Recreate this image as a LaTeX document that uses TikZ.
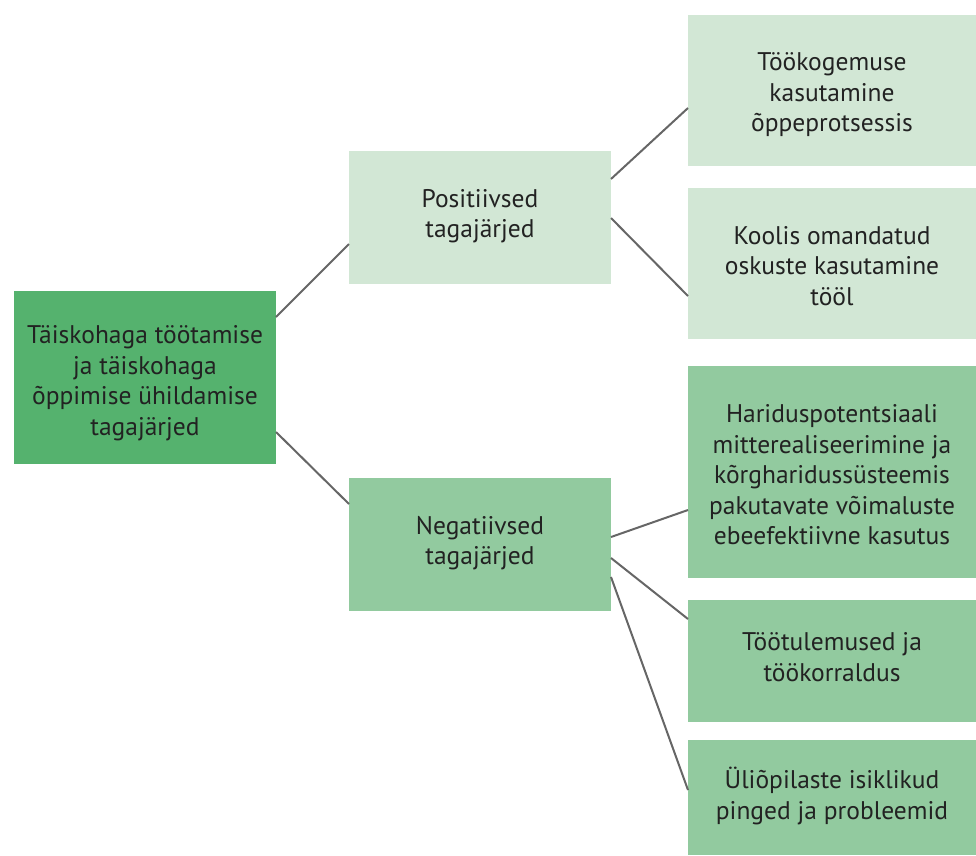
\documentclass[tikz,border=0pt]{standalone}
\usepackage{fontspec}
\setmainfont{PT Sans}
\definecolor{rootg}{HTML}{55B26E}
\definecolor{lightg}{HTML}{D2E7D5}
\definecolor{midg}{HTML}{92CA9F}
\definecolor{txt}{HTML}{222222}
\definecolor{linec}{HTML}{666666}
\tikzset{
  box/.style={rectangle, inner sep=0pt, align=center, text=txt,
    font=\fontsize{25.5}{30.5}\selectfont},
  conn/.style={draw=linec, line width=2pt}
}
\begin{document}
\begin{tikzpicture}[x=1pt,y=-1pt]
\useasboundingbox (0,0) rectangle (976,855);
% boxes
\fill[rootg] (14,291) rectangle (276,464);
\node[box] (root) at (145,383) {Täiskohaga töötamise\\ja täiskohaga\\õppimise ühildamise\\tagajärjed};
\fill[lightg] (349,151) rectangle (611,284);
\node[box] (pos) at (480,216) {Positiivsed\\tagajärjed};
\fill[midg] (349,478) rectangle (611,611);
\node[box] (neg) at (480,543) {Negatiivsed\\tagajärjed};
\fill[lightg] (688,15) rectangle (976,166);
\node[box] (b1) at (832,95) {Töökogemuse\\kasutamine\\õppeprotsessis};
\fill[lightg] (688,188) rectangle (976,339);
\node[box] (b2) at (832,266) {Koolis omandatud\\oskuste kasutamine\\tööl};
\fill[midg] (688,366) rectangle (976,578);
\node[box] (b3) at (832,475) {Hariduspotentsiaali\\mitterealiseerimine ja\\kõrgharidussüsteemis\\pakutavate võimaluste\\ebeefektiivne kasutus};
\fill[midg] (688,600) rectangle (976,722);
\node[box] (b4) at (832,657) {Töötulemused ja\\töökorraldus};
\fill[midg] (688,740) rectangle (976,855);
\node[box] (b5) at (832,796) {Üliõpilaste isiklikud\\pinged ja probleemid};
% connector anchors
\coordinate (r1) at (276,317); \coordinate (p0) at (349,244);
\coordinate (r2) at (276,432); \coordinate (n0) at (349,504);
\coordinate (p1) at (611,179); \coordinate (b1l) at (688,108);
\coordinate (p2) at (611,218); \coordinate (b2l) at (688,296);
\coordinate (n1) at (611,537); \coordinate (b3l) at (688,510);
\coordinate (n2) at (611,558); \coordinate (b4l) at (688,619);
\coordinate (n3) at (611,577); \coordinate (b5l) at (688,790);
\draw[conn] (r1) -- (p0);
\draw[conn] (r2) -- (n0);
\draw[conn] (p1) -- (b1l);
\draw[conn] (p2) -- (b2l);
\draw[conn] (n1) -- (b3l);
\draw[conn] (n2) -- (b4l);
\draw[conn] (n3) -- (b5l);
\end{tikzpicture}
\end{document}
